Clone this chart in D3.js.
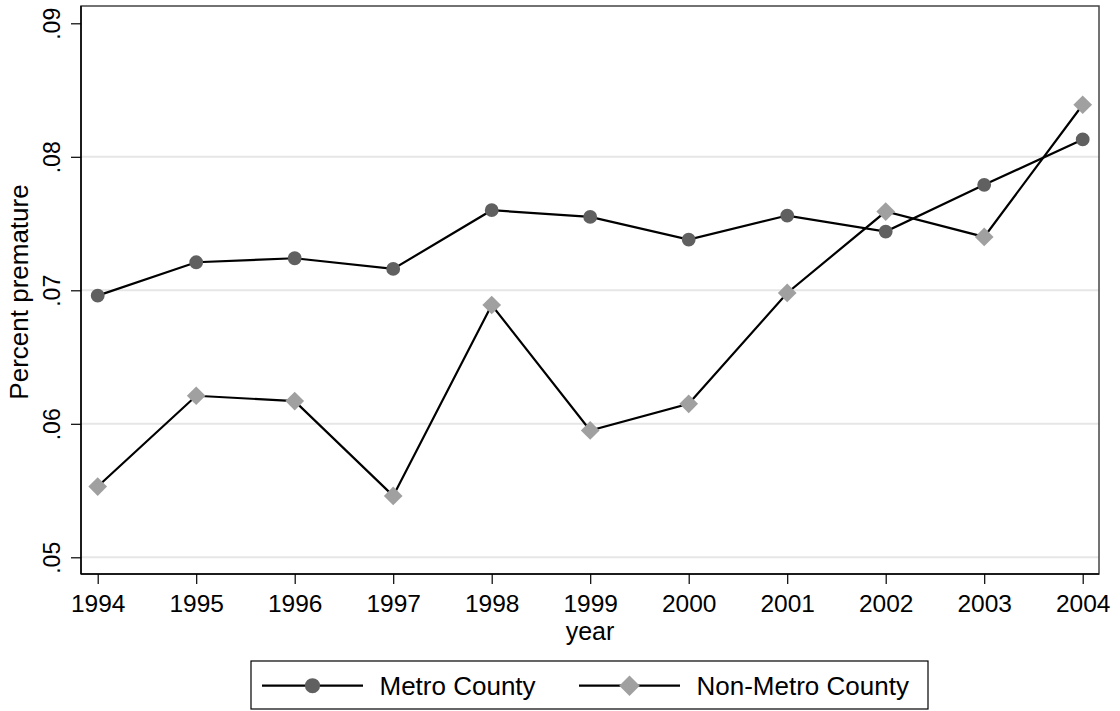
<!DOCTYPE html>
<html>
<head>
<meta charset="utf-8">
<script src="https://cdn.jsdelivr.net/npm/d3@7"></script>
<style>
  html, body { margin: 0; padding: 0; background: #fff; }
  svg text { font-family: "Liberation Sans", Arial, Helvetica, sans-serif; fill: #000; }
</style>
</head>
<body>
<svg id="chart" width="1120" height="711"></svg>
<script>
// Share of births that were premature, by county type
const years = [1994, 1995, 1996, 1997, 1998, 1999, 2000, 2001, 2002, 2003, 2004];
const metro = [0.0696, 0.0721, 0.0724, 0.0716, 0.0760, 0.0755, 0.0738, 0.0756, 0.0744, 0.0779, 0.0813];
const nonMetro = [0.0553, 0.0621, 0.0617, 0.0546, 0.0689, 0.0595, 0.0615, 0.0698, 0.0759, 0.0740, 0.0839];
const yTicks = [0.05, 0.06, 0.07, 0.08, 0.09];
const yTickLabels = [".05", ".06", ".07", ".08", ".09"];
const seriesNames = ["Metro County", "Non-Metro County"];

const svg = d3.select("#chart");
const frame = { left: 81, right: 1099, top: 6, bottom: 574 };
const fontSize = 26;
const xTickFont = 24.5;
const yTickFont = 23;

const x = d3.scaleLinear().domain([1994, 2004]).range([97.7, 1082.7]);
const y = d3.scaleLinear().domain([0.05, 0.09]).range([557.3, 23.3]);

// light horizontal grid
svg.append("g").selectAll("line")
  .data(yTicks.filter(t => t < 0.09))
  .join("line")
  .attr("x1", frame.left).attr("x2", frame.right)
  .attr("y1", d => y(d)).attr("y2", d => y(d))
  .attr("stroke", "#e6e6e6").attr("stroke-width", 2);

// plot frame
svg.append("rect")
  .attr("x", frame.left).attr("y", frame.top)
  .attr("width", frame.right - frame.left).attr("height", frame.bottom - frame.top)
  .attr("fill", "none").attr("stroke", "#444").attr("stroke-width", 1.5);

// y axis
const yAxis = d3.axisLeft(y).tickValues(yTicks)
  .tickFormat((d, i) => yTickLabels[i]).tickSize(10).tickPadding(0);
const gy = svg.append("g").attr("transform", `translate(${frame.left},0)`).call(yAxis);
gy.select(".domain").attr("d", `M0,${frame.top}V${frame.bottom}`).attr("stroke", "#000").attr("stroke-width", 1.5);
gy.selectAll(".tick line").attr("stroke", "#000").attr("stroke-width", 1.2);
gy.selectAll(".tick text")
  .attr("x", null).attr("dy", null)
  .attr("transform", "translate(-21,0) rotate(-90)")
  .attr("text-anchor", "middle")
  .style("font-size", yTickFont + "px");

// x axis
const xAxis = d3.axisBottom(x).tickValues(years).tickFormat(d3.format("d")).tickSize(10);
const gx = svg.append("g").attr("transform", `translate(0,${frame.bottom})`).call(xAxis);
gx.select(".domain").attr("d", `M${frame.left},0H${frame.right}`).attr("stroke", "#000").attr("stroke-width", 1.5);
gx.selectAll(".tick line").attr("stroke", "#000").attr("stroke-width", 1.2);
gx.selectAll(".tick text")
  .attr("y", 37.5).attr("dy", null)
  .style("font-size", xTickFont + "px");

// axis titles
svg.append("text")
  .attr("transform", `translate(28,292) rotate(-90)`)
  .attr("text-anchor", "middle")
  .style("font-size", fontSize + "px")
  .text("Percent premature");
svg.append("text")
  .attr("x", (frame.left + frame.right) / 2).attr("y", 639.5)
  .attr("text-anchor", "middle")
  .style("font-size", "25px")
  .text("year");

// series
const line = d3.line().x(d => x(d[0])).y(d => y(d[1]));
const metroPts = years.map((yr, i) => [yr, metro[i]]);
const nonPts = years.map((yr, i) => [yr, nonMetro[i]]);

const circleSym = d3.symbol().type(d3.symbolCircle).size(150);
const diamondSym = d3.symbol().type(d3.symbolSquare).size(175);
const circleSymLg = d3.symbol().type(d3.symbolCircle).size(180);
const diamondSymLg = d3.symbol().type(d3.symbolSquare).size(210);

[[metroPts, "#606060", "circle"], [nonPts, "#a0a0a0", "diamond"]].forEach(([pts, col, kind]) => {
  svg.append("path").datum(pts)
    .attr("d", line).attr("fill", "none")
    .attr("stroke", "#000").attr("stroke-width", 2.2);
  svg.append("g").selectAll("path").data(pts).join("path")
    .attr("d", kind === "circle" ? circleSym : diamondSym)
    .attr("transform", d => `translate(${x(d[0])},${y(d[1])})` + (kind === "diamond" ? " rotate(45)" : ""))
    .attr("fill", col);
});

// legend
const lg = svg.append("g");
lg.append("rect").attr("x", 251).attr("y", 661).attr("width", 677).attr("height", 48)
  .attr("fill", "#fff").attr("stroke", "#000").attr("stroke-width", 1.2);
const legendItems = [
  { name: seriesNames[0], col: "#606060", kind: "circle", x0: 262 },
  { name: seriesNames[1], col: "#a0a0a0", kind: "diamond", x0: 579 }
];
legendItems.forEach(it => {
  const cy = 685.7;
  lg.append("line").attr("x1", it.x0).attr("x2", it.x0 + 101).attr("y1", cy).attr("y2", cy)
    .attr("stroke", "#000").attr("stroke-width", 2.2);
  lg.append("path")
    .attr("d", it.kind === "circle" ? circleSymLg : diamondSymLg)
    .attr("transform", `translate(${it.x0 + 50.5},${cy})` + (it.kind === "diamond" ? " rotate(45)" : ""))
    .attr("fill", it.col);
  lg.append("text").attr("x", it.x0 + 117.5).attr("y", 695)
    .style("font-size", fontSize + "px").text(it.name);
});
</script>
</body>
</html>
